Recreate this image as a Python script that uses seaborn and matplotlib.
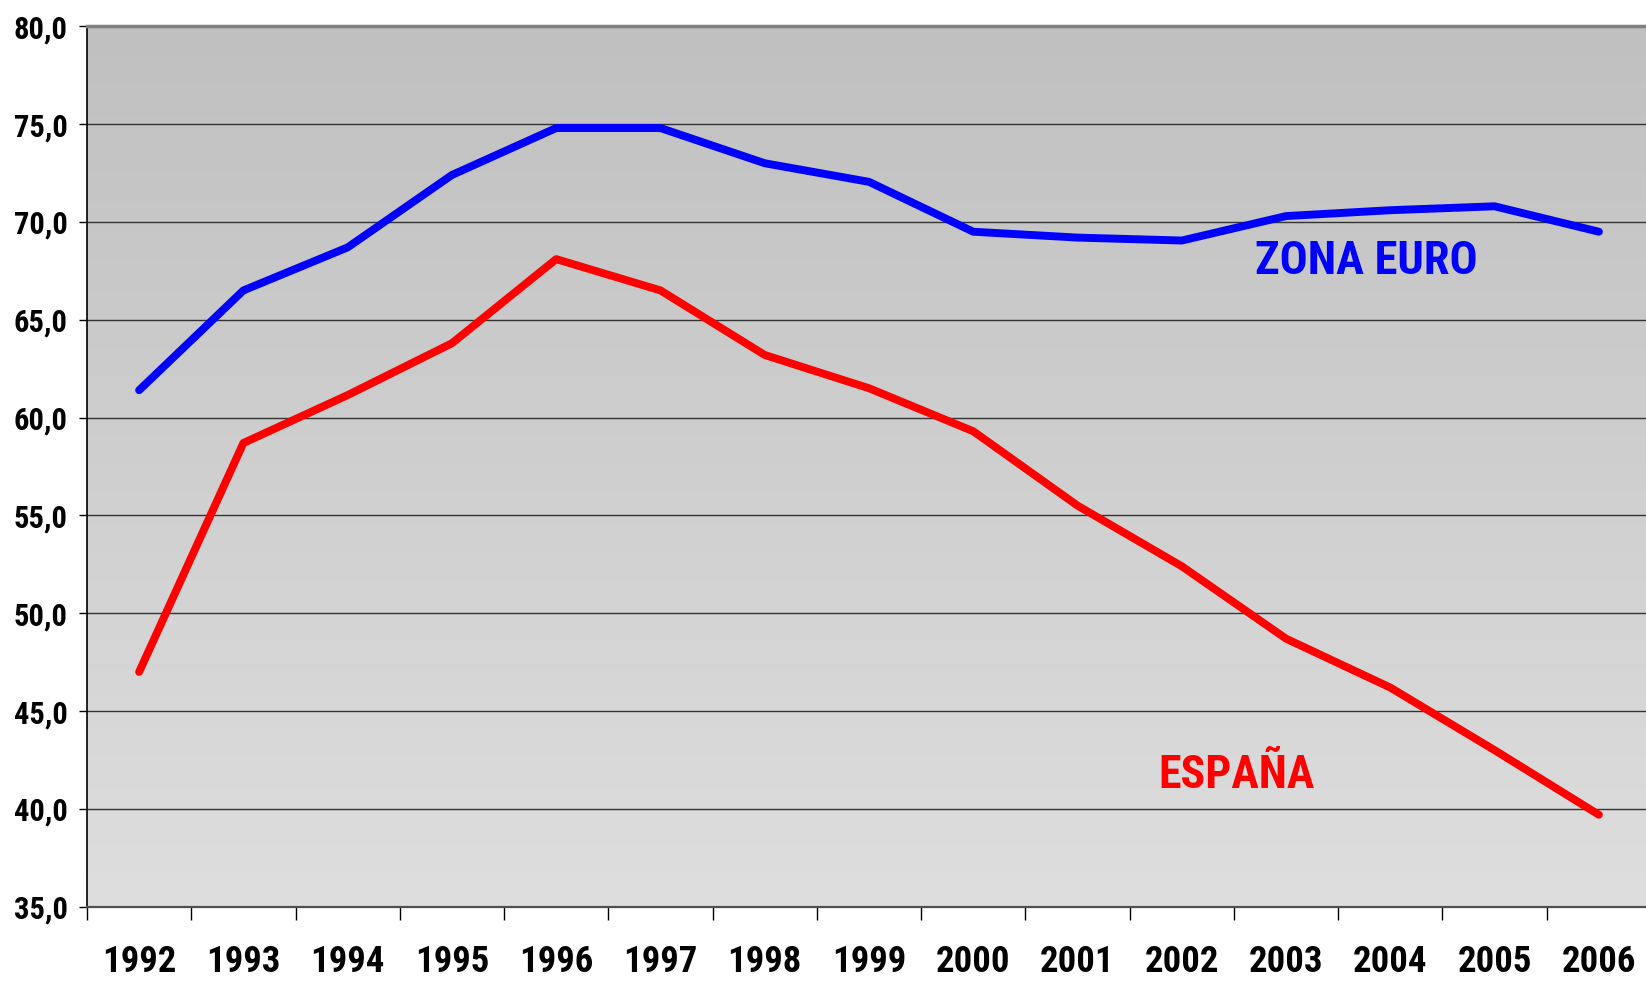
import numpy as np
import pandas as pd
import matplotlib
matplotlib.use('Agg')
import matplotlib.pyplot as plt
import matplotlib.font_manager as fm
import seaborn as sns

years = ['1992', '1993', '1994', '1995', '1996', '1997', '1998', '1999',
         '2000', '2001', '2002', '2003', '2004', '2005', '2006']
zona_euro = [61.4, 66.5, 68.7, 72.4, 74.8, 74.8, 73.0, 72.05,
             69.5, 69.2, 69.05, 70.3, 70.6, 70.8, 69.5]
espana = [47.0, 58.7, 61.15, 63.8, 68.1, 66.5, 63.2, 61.5,
          59.3, 55.5, 52.4, 48.7, 46.2, 43.0, 39.7]
yticks = [35, 40, 45, 50, 55, 60, 65, 70, 75, 80]

df = pd.DataFrame({
    'year': years * 2,
    'value': zona_euro + espana,
    'serie': ['ZONA EURO'] * len(years) + ['ESPAÑA'] * len(years),
})

# pick a narrow bold face if one is installed
names = {f.name for f in fm.fontManager.ttflist}
family = None
for cand in ['Liberation Sans Narrow', 'Arial Narrow', 'Roboto Condensed',
             'Noto Sans Condensed', 'Open Sans Condensed', 'DejaVu Sans Condensed']:
    if cand in names:
        family = cand
        break
stretch = 'normal'
if family is None:
    cond = [f for f in fm.fontManager.ttflist
            if f.stretch in ('condensed', 'semi-condensed') and f.weight in (600, 700, 'bold')]
    if cond:
        family = cond[0].name
        stretch = cond[0].stretch
    else:
        family = 'Liberation Sans'

sns.set_theme(style='white')
plt.rcParams['font.family'] = [family, 'DejaVu Sans']
plt.rcParams['font.stretch'] = stretch

fig = plt.figure(figsize=(16.46, 9.82), dpi=100)
ax = fig.add_axes([87 / 1646, 75.3 / 982, 1564 / 1646, 880.4 / 982])

# vertical gray gradient background
grad = np.linspace(0, 1, 256).reshape(-1, 1)
top = np.array([0.753, 0.753, 0.753])
bot = np.array([0.871, 0.871, 0.871])
img = top + (bot - top) * grad[:, :, None]
ax.imshow(img, extent=[0, 1, 0, 1], transform=ax.transAxes,
          aspect='auto', zorder=-1, origin='upper')

sns.lineplot(data=df, x='year', y='value', hue='serie',
             palette={'ZONA EURO': '#0000ff', 'ESPAÑA': '#ff0000'},
             linewidth=5.7, legend=False, ax=ax, zorder=3,
             solid_capstyle='round', solid_joinstyle='round')

ax.set_xlim(-0.5, 14.5)
ax.set_ylim(35, 80)
ax.set_yticks(yticks)
ax.set_yticklabels([f'{v:.1f}'.replace('.', ',') for v in yticks])
ax.yaxis.grid(True, color='#333333', linewidth=1.0)
ax.xaxis.grid(False)

ax.set_xticks(range(len(years)))
ax.set_xticklabels(years)
ax.set_xticks([i - 0.5 for i in range(len(years))], minor=True)
ax.tick_params(axis='x', which='major', length=0, pad=27, labelsize=26.5)
ax.tick_params(axis='x', which='minor', length=9, width=1, color='black',
               direction='out', bottom=True)
ax.tick_params(axis='y', length=6, width=1, color='black', direction='out',
               left=True, pad=8, labelsize=22)
for lab in ax.get_xticklabels() + ax.get_yticklabels():
    lab.set_fontweight('bold')
    lab.set_color('black')

ax.set_xlabel('')
ax.set_ylabel('')

ax.spines['top'].set_color('#808080')
ax.spines['top'].set_linewidth(2.5)
ax.spines['left'].set_color('black')
ax.spines['left'].set_linewidth(1.2)
ax.spines['bottom'].set_color('#505050')
ax.spines['bottom'].set_linewidth(1.6)
ax.spines['right'].set_visible(False)

ax.text(10.70, 67.34, 'ZONA EURO', color='#0000ff', fontsize=33.5,
        fontweight='bold', ha='left', va='baseline', zorder=4)
ax.text(9.775, 41.06, 'ESPAÑA', color='#ff0000', fontsize=33,
        fontweight='bold', ha='left', va='baseline', zorder=4)

fig.savefig('out.png', dpi=100, facecolor='white')
